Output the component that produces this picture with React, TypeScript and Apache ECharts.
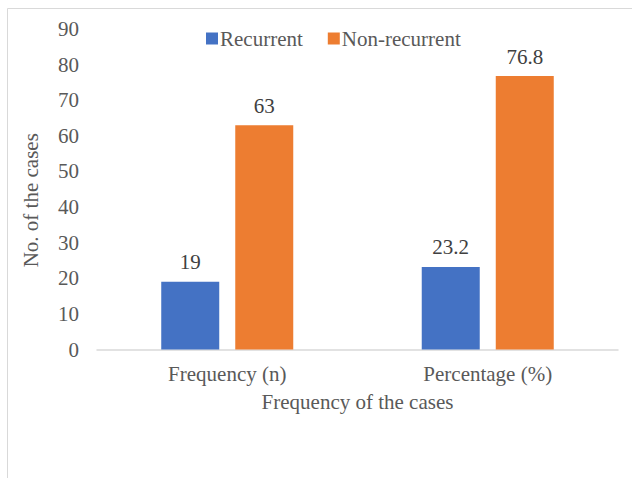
import React, { useEffect, useRef } from "react";
import * as echarts from "echarts";

const categories = ["Frequency (n)", "Percentage (%)"];
const recurrent = [19, 23.2];
const nonRecurrent = [63, 76.8];
const seriesNames = ["Recurrent", "Non-recurrent"];
const yMin = 0;
const yMax = 90;
const yStep = 10;

export default function App() {
  const ref = useRef<HTMLDivElement>(null);
  useEffect(() => {
    if (!ref.current) return;
    const chart = echarts.init(ref.current, null, { renderer: "svg" });
    const font = "Liberation Serif";
    const labelCommon = {
      show: true,
      position: "top",
      distance: 9,
      fontFamily: font,
      fontSize: 21,
      fontWeight: "normal",
      color: "#404040",
    };
    chart.setOption({
      animation: false,
      backgroundColor: "#ffffff",
      textStyle: { fontFamily: font },
      graphic: [
        {
          type: "rect",
          shape: { x: 7.5, y: 8.5, width: 700, height: 600 },
          style: { fill: "none", stroke: "#d9d9d9", lineWidth: 1 },
          silent: true,
        },
      ],
      legend: {
        left: 201,
        top: 23,
        itemWidth: 12,
        itemHeight: 12,
        itemGap: 25,
        icon: "rect",
        textStyle: { fontFamily: font, fontSize: 21, color: "#595959", padding: [0, 0, 0, -3] },
        data: seriesNames,
      },
      grid: { left: 97, right: 14, top: 29, bottom: 478 - 349.5, containLabel: false },
      xAxis: {
        type: "category",
        data: categories,
        axisLine: { lineStyle: { color: "#d9d9d9", width: 1.5 } },
        axisTick: { show: false },
        axisLabel: { fontFamily: font, fontSize: 21, color: "#595959", margin: 14 },
        name: "Frequency of the cases",
        nameLocation: "middle",
        nameGap: 42,
        nameTextStyle: { fontFamily: font, fontSize: 21, color: "#595959" },
      },
      yAxis: {
        type: "value",
        min: yMin,
        max: yMax,
        interval: yStep,
        splitLine: { show: false },
        axisLine: { show: false },
        axisTick: { show: false },
        axisLabel: { fontFamily: font, fontSize: 21, color: "#595959", margin: 18 },
        name: "No. of the cases",
        nameLocation: "middle",
        nameGap: 56,
        nameTextStyle: { fontFamily: font, fontSize: 21, color: "#595959", padding: [0, 22, 0, 0] },
      },
      series: [
        {
          name: seriesNames[0],
          type: "bar",
          data: recurrent,
          barWidth: 58,
          barGap: "27.6%",
          itemStyle: { color: "#4472C4" },
          label: labelCommon,
        },
        {
          name: seriesNames[1],
          type: "bar",
          data: nonRecurrent,
          barWidth: 58,
          barGap: "27.6%",
          itemStyle: { color: "#ED7D31" },
          label: labelCommon,
        },
      ],
    });
    return () => chart.dispose();
  }, []);
  return (
    <div
      ref={ref}
      style={{ position: "fixed", left: 0, top: 0, width: 632, height: 478, background: "#fff" }}
    />
  );
}
